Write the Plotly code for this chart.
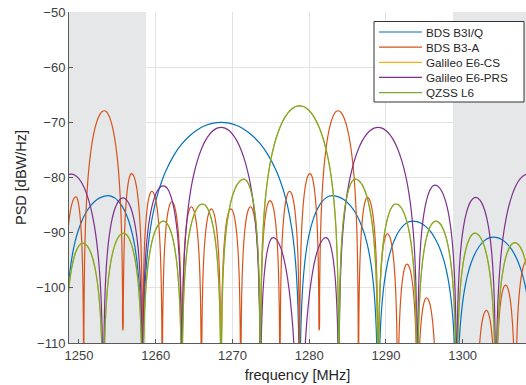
import plotly.graph_objects as go

# ---------------- data ----------------
series_names = ["BDS B3I/Q", "BDS B3-A", "Galileo E6-CS", "Galileo E6-PRS", "QZSS L6"]

# BDS B3I/Q : lobe boundaries (nulls) [MHz], lobe peak frequency [MHz], lobe peak PSD [dBW/Hz]
b3iq_nulls = [1248.06, 1258.29, 1278.75, 1288.98, 1299.21, 1309.44]
b3iq_peak_f = [1253.8, 1268.52, 1283.0, 1293.5, 1304.0]
b3iq_peak_db = [-83.3, -70.0, -83.3, -87.9, -90.8]

# BDS B3-A
b3a_nulls = [1248.06, 1250.62, 1255.73, 1258.29, 1260.85, 1263.41, 1265.96, 1268.52,
             1271.08, 1273.64, 1276.19, 1278.75, 1281.31, 1286.42, 1288.98, 1291.54,
             1294.10, 1296.65, 1299.21, 1301.77, 1304.33, 1306.88, 1309.44]
b3a_peak_f = [1249.6, 1253.3, 1256.85, 1259.5, 1262.1, 1264.65, 1267.25, 1269.8,
              1272.35, 1274.9, 1277.45, 1280.1, 1283.75, 1287.6, 1290.2, 1292.75,
              1295.3, 1297.9, 1300.5, 1303.1, 1305.6, 1308.4]
b3a_peak_db = [-83.5, -67.9, -79.3, -82.5, -84.4, -85.3, -85.7, -85.7,
               -85.3, -84.2, -82.5, -79.3, -67.9, -83.6, -90.2, -95.7,
               -101.8, -116.0, -116.0, -104.1, -99.5, -95.0]
b3a_null_db = {1255.73: -107.6, 1281.31: -107.6}   # nulls that stop above the floor

# Galileo E6-PRS
prs_nulls = [1242.95, 1253.175, 1258.29, 1263.405, 1273.635, 1278.75, 1283.865,
             1294.095, 1299.21, 1304.325, 1314.555]
prs_peak_f = [1249.0, 1255.74, 1261.0, 1268.52, 1275.3, 1282.2, 1288.98, 1296.4, 1301.7, 1308.5]
prs_peak_db = [-79.4, -83.7, -81.5, -70.9, -90.9, -90.9, -70.9, -81.4, -83.6, -79.4]
prs_null_order = {1278.75: 2}   # wide (higher order) null at the band centre

# QZSS L6 (Galileo E6-CS lies exactly underneath)
l6_nulls = [1248.06, 1253.175, 1258.29, 1263.405, 1268.52, 1273.635, 1283.865,
            1288.98, 1294.095, 1299.21, 1304.325, 1309.44]
l6_peak_f = [1250.5, 1255.8, 1261.0, 1266.1, 1271.5, 1278.75, 1286.0, 1291.3, 1296.5, 1301.6, 1306.8]
l6_peak_db = [-91.9, -90.1, -87.9, -84.8, -80.3, -67.0, -80.3, -84.8, -87.9, -90.1, -91.8]
e6cs_nulls = list(l6_nulls)
e6cs_peak_f = list(l6_peak_f)
e6cs_peak_db = list(l6_peak_db)

x_ticks = [1250, 1260, 1270, 1280, 1290, 1300]
y_ticks = [-110, -100, -90, -80, -70, -60, -50]
band_lo, band_hi = 1258.75, 1298.75          # edges of the shaded out-of-band areas

# ---------------- lobe drawing template (shape of one lobe half) ----------------
T = [0, 0.01, 0.02, 0.04, 0.07, 0.1, 0.15, 0.2, 0.25, 0.3, 0.4, 0.5, 0.6, 0.7, 0.8, 0.9, 1.0]
SIDE = [None, -36.08, -30.06, -24.04, -19.20, -16.11, -12.64, -10.20, -8.34, -6.86,
        -4.62, -3.01, -1.84, -1.00, -0.44, -0.11, 0.0]
MAIN = [None, -39.9, -33.8, -27.6, -22.5, -19.23, -15.39, -12.62, -10.45, -8.69,
        -5.94, -3.92, -2.42, -1.33, -0.58, -0.14, 0.0]
NULL_Y = -140.0


def build_curve(nulls, peak_f, peak_db, null_db=None, null_order=None):
    null_db = null_db or {}
    null_order = null_order or {}
    widths = [nulls[i + 1] - nulls[i] for i in range(len(nulls) - 1)]
    wmin = min(widths)
    xs, ys = [], []
    for i in range(len(peak_f)):
        a, b = nulls[i], nulls[i + 1]
        pf, pdb = peak_f[i], peak_db[i]
        prof = MAIN if (b - a) > 1.5 * wmin else SIDE
        fa = null_db.get(a, NULL_Y)
        fb = null_db.get(b, NULL_Y)
        oa = null_order.get(a, 1)
        ob = null_order.get(b, 1)
        # left half
        for k, t in enumerate(T):
            if k == 0:
                if i == 0:
                    xs.append(a); ys.append(fa)
                continue
            xs.append(a + t * (pf - a))
            ys.append(max(pdb + oa * prof[k], fa))
        # right half
        for k in range(len(T) - 2, -1, -1):
            t = T[k]
            if k == 0:
                xs.append(b); ys.append(fb)
                continue
            xs.append(b - t * (b - pf))
            ys.append(max(pdb + ob * prof[k], fb))
    return xs, ys


colors = ["#0072BD", "#D95319", "#EDB120", "#7E2F8E", "#77AC30"]
curves = [
    build_curve(b3iq_nulls, b3iq_peak_f, b3iq_peak_db),
    build_curve(b3a_nulls, b3a_peak_f, b3a_peak_db, null_db=b3a_null_db),
    build_curve(e6cs_nulls, e6cs_peak_f, e6cs_peak_db),
    build_curve(prs_nulls, prs_peak_f, prs_peak_db, null_order=prs_null_order),
    build_curve(l6_nulls, l6_peak_f, l6_peak_db),
]

W, H = 526, 385
ML, MR, MT, MB = 69, 0, 12, 42
x_range = [1248.7, 1308.26]
y_range = [-110, -50]

fig = go.Figure()

# shaded out-of-band areas (drawn first, above the grid, below the curves)
for x0, x1 in [(x_range[0], band_lo), (band_hi, x_range[1])]:
    fig.add_trace(go.Scatter(x=[x0, x1, x1, x0, x0],
                             y=[y_range[0], y_range[0], y_range[1], y_range[1], y_range[0]],
                             mode="lines", fill="toself", fillcolor="#e6e7e9",
                             line=dict(width=0, color="#e6e7e9"), hoverinfo="skip",
                             showlegend=False))

for name, col, (xs, ys) in zip(series_names, colors, curves):
    fig.add_trace(go.Scatter(x=xs, y=ys, mode="lines", name=name,
                             line=dict(color=col, width=1.2, shape="spline", smoothing=0.6),
                             showlegend=False))

# legend box (MATLAB style)
pw, ph = W - ML - MR, H - MT - MB
def px_x(px): return (px - ML) / pw
def px_y(py): return (H - MB - py) / ph

fig.add_shape(type="rect", xref="paper", yref="paper",
              x0=px_x(374), x1=px_x(524), y0=px_y(102), y1=px_y(21.5),
              fillcolor="white", line=dict(color="#333333", width=1), layer="above")
for i, (name, col) in enumerate(zip(series_names, colors)):
    yy = px_y(32 + 15.15 * i)
    fig.add_shape(type="line", xref="paper", yref="paper",
                  x0=px_x(379), x1=px_x(422), y0=yy, y1=yy,
                  line=dict(color=col, width=1.2), layer="above")
    fig.add_annotation(xref="paper", yref="paper", x=px_x(424), y=yy, text=name,
                       showarrow=False, xanchor="left", yanchor="middle",
                       font=dict(size=11.7, color="#262626"))

axis_common = dict(showline=True, linecolor="#5a5a5a", linewidth=1, ticks="inside",
                   ticklen=4, tickcolor="#5a5a5a", showgrid=True, gridcolor="#e3e3e3",
                   gridwidth=1, zeroline=False, tickfont=dict(size=13, color="#404040"),
                   mirror=False)

fig.update_layout(
    width=W, height=H,
    margin=dict(l=ML, r=MR, t=MT, b=MB),
    paper_bgcolor="white", plot_bgcolor="white",
    font=dict(family="Liberation Sans, Arial, Helvetica, sans-serif", color="#262626"),
    xaxis=dict(range=x_range, tickvals=x_ticks, title=dict(text="frequency [MHz]",
               font=dict(size=14.5, color="#262626"), standoff=8), **axis_common),
    yaxis=dict(range=y_range, tickvals=y_ticks, title=dict(text="PSD [dBW/Hz]",
               font=dict(size=14.5, color="#262626"), standoff=6), **axis_common),
    showlegend=False,
)

fig.write_html("out.html")
